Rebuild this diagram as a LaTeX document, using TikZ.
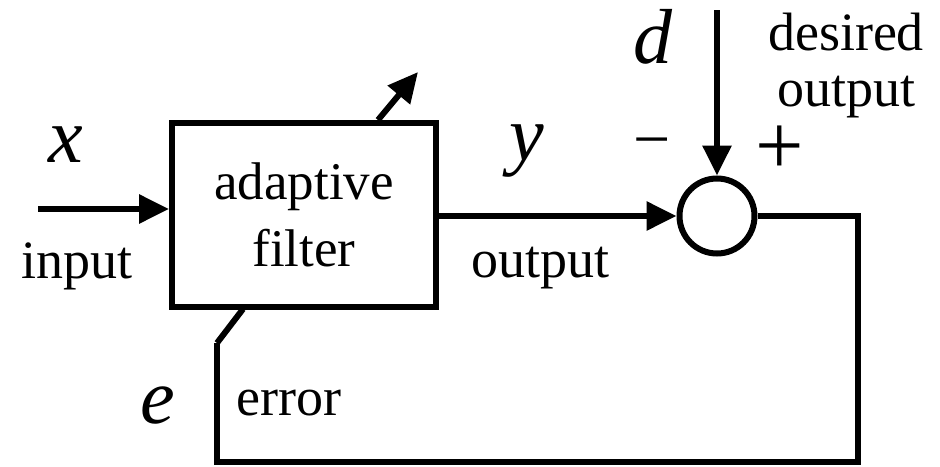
\documentclass[tikz,border=0pt]{standalone}
\usepackage{fontspec}
\setmainfont{Liberation Serif}
\usetikzlibrary{arrows.meta,calc}

\tikzset{
  sig/.style={line width=6pt, line join=miter},
  arr/.style={sig, -{Triangle[length=30pt,width=28pt]}},
  block/.style={draw, line width=6pt, minimum width=264pt, minimum height=184pt,
    inner sep=0pt, align=center, font=\fontsize{53}{67}\selectfont},
  sumnode/.style={draw, circle, line width=6pt, minimum size=75pt, inner sep=0pt},
  lbl/.style={inner sep=0pt, font=\fontsize{54}{56}\selectfont},
  var/.style={inner sep=0pt, anchor=base, font=\fontsize{78}{78}\selectfont\itshape},
}

\begin{document}
\begin{tikzpicture}[x=1pt,y=-1pt]
\useasboundingbox (0,0) rectangle (940,466);
% blocks
\node[block] (filt) at (304,215) {adaptive\\filter};
\node[sumnode] (sum) at (717,216) {};
% free ends and corners
\coordinate (in) at (38,209);
\coordinate (dtop) at (717,10);
\coordinate (adapt) at (418,72);
\coordinate (rc) at (858,216);
\coordinate (bc) at (858,462);
\coordinate (lc) at (217,462);
\coordinate (ebend) at (217,343);
\coordinate (etip) at (243,309);
% signals
\draw[arr] (in) -- (in -| filt.west);
\draw[arr] (filt.east |- sum) -- (sum.west);
\draw[arr] (dtop) -- (sum.north);
\draw[arr] ([xshift=74pt]filt.north) -- (adapt);
\draw[sig] (sum.east) -- (rc) -- (bc) -- (lc) -- (ebend);
\draw[sig] (ebend) -- (etip);
% labels
\node[var] (xlbl) at (66,162) {x};
\node[var] (ylbl) at (527,160) {y};
\node[var] (dlbl) at (653,63) {d};
\node[var] (elbl) at (158,423) {e};
\node[lbl, anchor=base] (inlbl) at (77,278) {input};
\node[lbl, anchor=base] (outlbl) at (540,277) {output};
\node[lbl, anchor=base] (errlbl) at (289,415) {error};
\node[lbl, anchor=base, align=center] (deslbl) at (846,106) {desired\\output};
\node[lbl, font=\fontsize{66}{66}\selectfont] (minus) at (652,150) {−};
\node[lbl, font=\fontsize{86}{86}\selectfont] (plus) at (780,150) {+};
\end{tikzpicture}
\end{document}
